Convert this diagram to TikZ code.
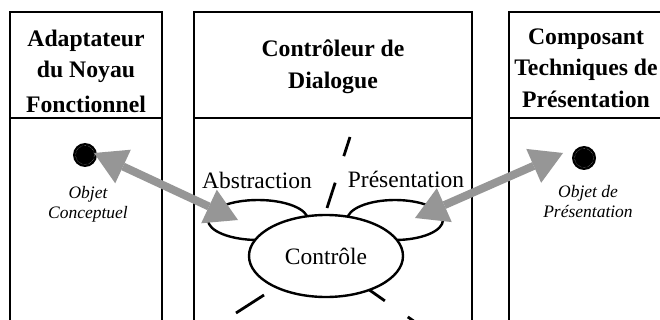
\documentclass[tikz,border=0pt]{standalone}
\usepackage{fontspec}
\setmainfont{Liberation Serif}
\usetikzlibrary{arrows.meta,shapes.geometric}
\definecolor{arrowgray}{RGB}{150,150,150}
\begin{document}
\begin{tikzpicture}[x=1pt,y=-1pt,
  panel/.style={line width=2.3pt},
  head/.style={font=\fontsize{23.7}{31.5}\selectfont\bfseries, align=center, inner sep=0pt},
  objlabel/.style={font=\fontsize{17.5}{20}\selectfont\itshape, align=center, inner sep=0pt},
  facetlabel/.style={font=\fontsize{23.5}{28}\selectfont, inner sep=0pt},
  facet/.style={draw, ellipse, line width=2.4pt, inner sep=0pt},
  objdot/.style={circle, fill=black, minimum size=24pt, inner sep=0pt,
    path picture={\draw[gray!55, line width=0.4pt, densely dotted]
      (path picture bounding box.center) circle (9.5pt);}},
  dualarrow/.style={arrowgray, line width=8pt,
    {Triangle[length=32pt, width=37pt, line width=0pt]}-{Triangle[length=32pt, width=37pt, line width=0pt]}},
  link/.style={line width=2.8pt}
]
\path[use as bounding box] (0,0) rectangle (660,320);
\clip (0,0) rectangle (660,320);
\fill[white] (0,0) rectangle (660,320);

% three columns with their header rows
\draw[panel] (10,12) rectangle (162,340);
\draw[panel] (10,118) -- (162,118);
\draw[panel] (194,12) rectangle (472,340);
\draw[panel] (194,118) -- (472,118);
\draw[panel] (509,12) rectangle (670,340);
\draw[panel] (509,118) -- (670,118);

\node[head] (hnf) at (86,71) {Adaptateur\\du Noyau\\[2.8pt]Fonctionnel};
\node[head] (hcd) at (333,67) {Contrôleur de\\Dialogue};
\node[head] (hpr) at (586,68) {Composant\\Techniques de\\Présentation};

% conceptual and presentation objects
\node[objdot] (oc) at (85,155) {};
\node[objlabel] (ocl) at (88,204) {Objet\\Conceptuel};
\node[objdot] (op) at (584,158) {};
\node[objlabel] (opl) at (588,202) {Objet de\\Présentation};

% links of the control facet to other agents
\coordinate (u0) at (327,208);
\coordinate (u1) at (350,137);
\coordinate (l0) at (264,295);
\coordinate (l1) at (236,313);
\coordinate (r0) at (368,289);
\coordinate (r1) at (420,325.5);
\draw[link, dash pattern=on 26.6pt off 27.9pt] (u0) -- (u1);
\draw[link] (l0) -- (l1);
\draw[link, dash pattern=on 20.6pt off 28pt] (r0) -- (r1);

% PAC agent: abstraction, presentation, control
\node[facet, minimum width=100pt, minimum height=40pt] (abs) at (258,220) {};
\node[facet, minimum width=96pt, minimum height=40pt] (pres) at (395,220) {};
\node[facet, fill=white, minimum width=154pt, minimum height=82pt,
  font=\fontsize{23.5}{28}\selectfont] (ctl) at (326,256) {Contrôle};
\node[facetlabel, anchor=base] (absl) at (257,189) {Abstraction};
\node[facetlabel, anchor=base] (presl) at (406,188) {Présentation};

% exchanges between the agent and the objects
\coordinate (a0) at (94,153);
\coordinate (a1) at (238,220);
\coordinate (b0) at (415,218);
\coordinate (b1) at (563,153);
\draw[dualarrow] (a0) -- (a1);
\draw[dualarrow] (b0) -- (b1);
\end{tikzpicture}
\end{document}
